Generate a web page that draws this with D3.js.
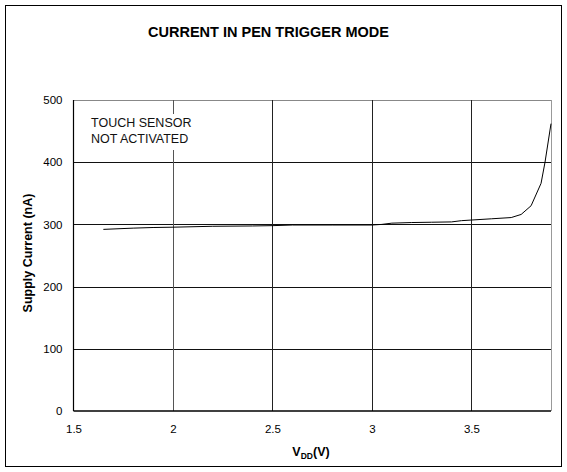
<!DOCTYPE html>
<html><head><meta charset="utf-8">
<script src="https://cdn.jsdelivr.net/npm/d3@7"></script>
<style>body{margin:0;background:#fff}svg{display:block;font-family:"Liberation Sans",Arial,sans-serif}</style>
</head><body><svg id="c" width="567" height="472"></svg>
<script>
const title = "CURRENT IN PEN TRIGGER MODE";
const xTicks = [1.5, 2, 2.5, 3, 3.5];
const yTicks = [0, 100, 200, 300, 400, 500];
const vdd = [1.65, 1.8, 1.9, 2.0, 2.2, 2.4, 2.5, 2.6, 2.8, 3.0, 3.05, 3.1, 3.2, 3.3, 3.4, 3.45, 3.5, 3.6, 3.7, 3.75, 3.8, 3.85, 3.87, 3.9];
const current = [292, 294, 295, 295.5, 297, 297.5, 298, 299, 299, 299, 300, 302, 303, 303.5, 304, 306, 307, 309, 311, 316, 330, 366, 400, 462];
const note = ["TOUCH SENSOR", "NOT ACTIVATED"];

const svg = d3.select("#c");
svg.append("rect").attr("x",5.5).attr("y",5.5).attr("width",556).attr("height",461)
  .attr("fill","none").attr("stroke","#000").attr("stroke-width",1);

const x = d3.scaleLinear().domain([1.5, 3.9]).range([73.5, 551]);
const y = d3.scaleLinear().domain([0, 500]).range([411, 100]);

svg.append("text").attr("x",268.5).attr("y",37).attr("text-anchor","middle")
  .attr("font-weight","bold").attr("font-size",14.5).text(title);

const g = svg.append("g");
g.selectAll(".hg").data(yTicks.filter(d=>d>0)).join("line")
  .attr("x1",x(1.5)).attr("x2",x(3.9)).attr("y1",d=>Math.round(y(d))+0.5).attr("y2",d=>Math.round(y(d))+0.5)
  .attr("stroke",d=>d===500?"#888":"#111").attr("stroke-width",1);
g.selectAll(".vg").data(xTicks.filter(d=>d>1.5)).join("line")
  .attr("x1",d=>Math.round(x(d))+0.5).attr("x2",d=>Math.round(x(d))+0.5).attr("y1",y(500)).attr("y2",y(0))
  .attr("stroke",d=>d===2?"#555":"#222").attr("stroke-width",1);
g.append("line").attr("x1",Math.round(x(3.9))+0.5).attr("x2",Math.round(x(3.9))+0.5)
  .attr("y1",y(500)).attr("y2",y(0)).attr("stroke","#999");

g.append("rect").attr("x",88).attr("y",114).attr("width",112).attr("height",36).attr("fill","#fff");
g.selectAll(".note").data(note).join("text")
  .attr("x",91).attr("y",(d,i)=>127+i*15.5).attr("font-size",12.5).attr("fill","#111").text(d=>d);

const xa = svg.append("g").attr("transform",`translate(0,${y(0)})`)
  .call(d3.axisBottom(x).tickValues(xTicks).tickSize(0).tickPadding(14).tickFormat(d3.format("")));
xa.select(".domain").attr("stroke","#000").attr("stroke-width",1.5).attr("d",`M${x(1.5)},0H${x(3.9)}`);
xa.selectAll("text").attr("font-size",11.5).attr("font-family","Liberation Sans, Arial, sans-serif").attr("fill","#000");

const ya = svg.append("g").attr("transform",`translate(${x(1.5)},0)`)
  .call(d3.axisLeft(y).tickValues(yTicks).tickSize(0).tickPadding(11));
ya.select(".domain").attr("stroke","#000").attr("stroke-width",1.2).attr("d",`M0,${y(0)}V${y(500)}`);
ya.selectAll("text").attr("font-size",11.5).attr("font-family","Liberation Sans, Arial, sans-serif").attr("fill","#000");

const line = d3.line().x((d,i)=>x(vdd[i])).y(d=>y(d));
svg.append("path").datum(current).attr("d",line).attr("fill","none")
  .attr("stroke","#000").attr("stroke-width",1);

const xt = svg.append("text").attr("x",311).attr("y",456).attr("text-anchor","middle")
  .attr("font-weight","bold").attr("font-size",12.5);
xt.append("tspan").text("V");
xt.append("tspan").attr("font-size",8.5).attr("dy",3).text("DD");
xt.append("tspan").attr("dy",-3).text("(V)");

svg.append("text").attr("transform","translate(32,253) rotate(-90)").attr("text-anchor","middle")
  .attr("font-weight","bold").attr("font-size",12.5).text("Supply Current (nA)");
</script></body></html>
